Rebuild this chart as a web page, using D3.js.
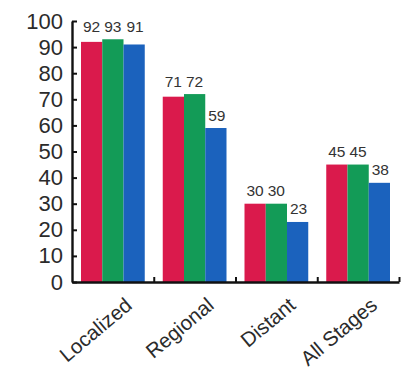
<!DOCTYPE html>
<html>
<head>
<meta charset="utf-8">
<script src="https://cdn.jsdelivr.net/npm/d3@7/dist/d3.min.js"></script>
<style>
  html, body { margin: 0; padding: 0; background: #fff; }
  svg { display: block; font-family: "Liberation Sans", Arial, Helvetica, sans-serif; }
</style>
</head>
<body>
<svg id="chart" width="404" height="373"></svg>
<script>
// Survival rate by stage, three series per stage
const stages = ["Localized", "Regional", "Distant", "All Stages"];
const seriesNames = ["s1", "s2", "s3"];
const series1 = [92, 71, 30, 45];
const series2 = [93, 72, 30, 45];
const series3 = [91, 59, 23, 38];
const yTicks = [0, 10, 20, 30, 40, 50, 60, 70, 80, 90, 100];
const colors = ["#da1a4c", "#139b57", "#1b62bd"];

const svg = d3.select("#chart");
const plotLeft = 72, plotRight = 399, plotTop = 21, plotBottom = 282;

const x = d3.scaleBand().domain(stages).range([plotLeft, plotRight]).padding(0);
const inner = d3.scaleBand().domain(seriesNames).range([9, x.bandwidth() - 9]).padding(0);
const y = d3.scaleLinear().domain([0, 100]).range([plotBottom, plotTop]);

const rows = stages.map((s, i) => ({
  stage: s,
  vals: [series1[i], series2[i], series3[i]]
}));

// Bars
const groups = svg.append("g").selectAll("g")
  .data(rows).join("g")
  .attr("transform", d => `translate(${x(d.stage)},0)`);

groups.selectAll("rect")
  .data(d => d.vals.map((v, j) => ({ v, j, key: seriesNames[j] })))
  .join("rect")
  .attr("x", d => inner(d.key))
  .attr("width", inner.bandwidth())
  .attr("y", d => y(d.v))
  .attr("height", d => y(0) - y(d.v))
  .attr("fill", d => colors[d.j]);

// Value labels; near-equal neighbours share one baseline
groups.each(function (row) {
  const g = d3.select(this);
  const top12 = Math.max(row.vals[0], row.vals[1]);
  row.vals.forEach((v, j) => {
    const ref = j < 2 ? top12 : (top12 - v <= 3 ? top12 : v);
    g.append("text")
      .attr("x", inner(seriesNames[j]) + inner.bandwidth() / 2 + (j === 2 ? 1 : 0))
      .attr("y", y(ref) - 7.5)
      .attr("text-anchor", "middle")
      .attr("font-size", 15.5)
      .attr("fill", "#333")
      .text(v);
  });
});

// Y axis with inward ticks
const yAxis = svg.append("g")
  .attr("transform", `translate(${plotLeft},0)`)
  .call(d3.axisLeft(y).tickValues(yTicks).tickSizeInner(-5).tickSizeOuter(0).tickPadding(9));
yAxis.select(".domain").attr("stroke", "#111").attr("stroke-width", 2.4);
yAxis.selectAll(".tick line").attr("stroke", "#111").attr("stroke-width", 2);
yAxis.selectAll(".tick text")
  .attr("font-size", 22)
  .attr("fill", "#2b2b2b")
  .attr("font-family", "'Liberation Sans', Arial, sans-serif");

// X axis baseline with separators between stages
const sep = d3.scaleLinear().domain([0, stages.length]).range([plotLeft, plotRight]);
const xAxis = svg.append("g")
  .attr("transform", `translate(0,${plotBottom})`)
  .call(d3.axisBottom(sep).tickValues(d3.range(1, stages.length + 1)).tickSizeInner(-5).tickSizeOuter(0).tickFormat(""));
xAxis.select(".domain").attr("stroke", "#111").attr("stroke-width", 2.4);
xAxis.selectAll(".tick line").attr("stroke", "#111").attr("stroke-width", 2);

// Rotated category labels
svg.append("g").selectAll("text")
  .data(stages).join("text")
  .attr("transform", d => `translate(${x(d) + x.bandwidth() / 2 + 11},296) rotate(-40)`)
  .attr("text-anchor", "end")
  .attr("dy", "0.72em")
  .attr("font-size", 20.5)
  .attr("fill", "#2b2b2b")
  .text(d => d);
</script>
</body>
</html>
